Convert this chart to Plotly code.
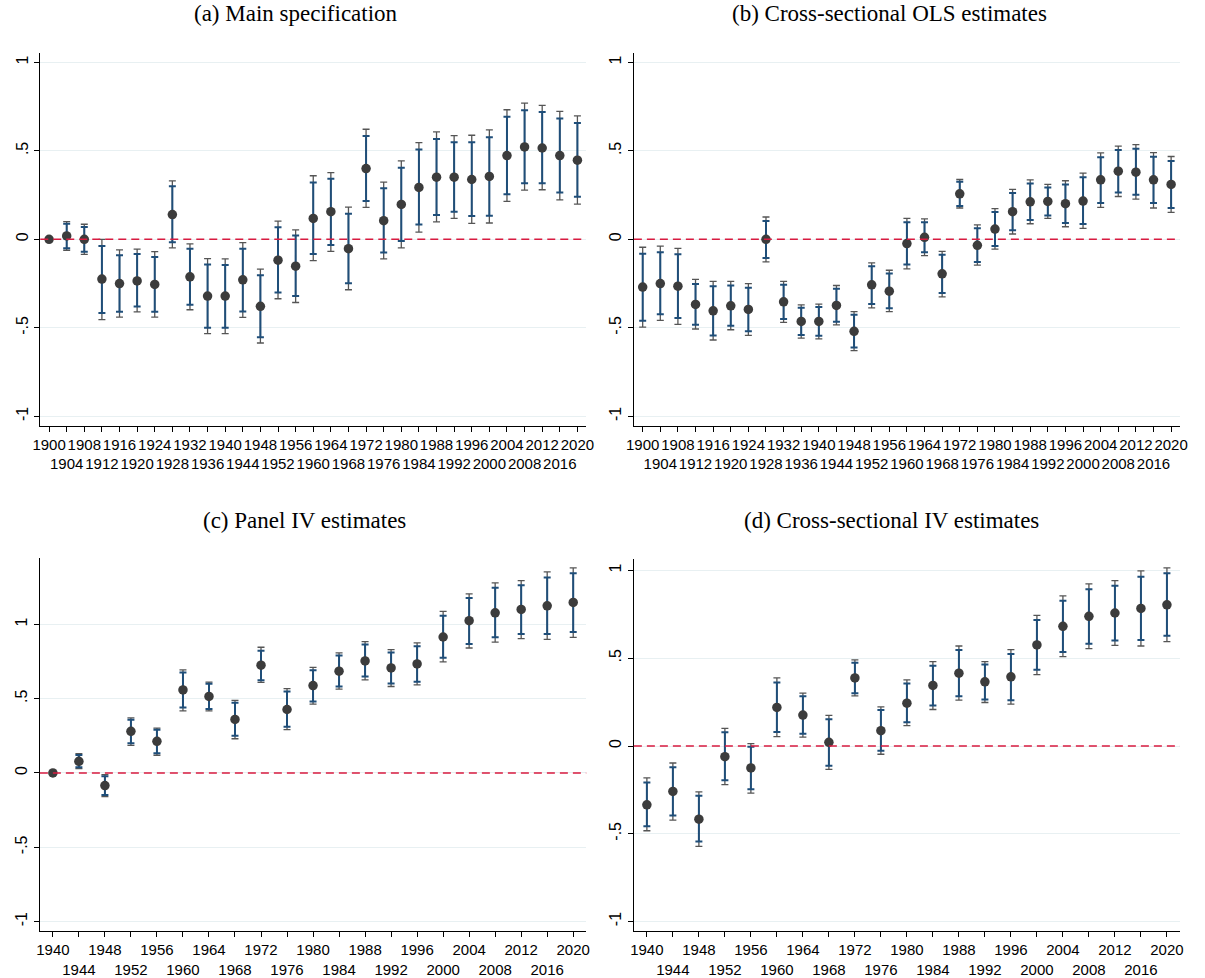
import plotly.graph_objects as go

# ---------------- data ----------------
# (a) Main specification
years_a = [1900, 1904, 1908, 1912, 1916, 1920, 1924, 1928, 1932, 1936, 1940, 1944, 1948, 1952, 1956,
           1960, 1964, 1968, 1972, 1976, 1980, 1984, 1988, 1992, 1996, 2000, 2004, 2008, 2012, 2016, 2020]
est_a = [0.0, 0.019, 0.0, -0.225, -0.25, -0.235, -0.255, 0.14, -0.212, -0.321, -0.321, -0.229, -0.379, -0.118, -0.152,
         0.118, 0.156, -0.053, 0.40, 0.105, 0.197, 0.293, 0.351, 0.351, 0.338, 0.355, 0.473, 0.522, 0.516, 0.473, 0.447]
hi95_a = [0.0, 0.10, 0.085, 0.0, -0.06, -0.055, -0.07, 0.33, -0.026, -0.109, -0.111, -0.019, -0.169, 0.103, 0.053,
          0.359, 0.377, 0.182, 0.622, 0.323, 0.443, 0.546, 0.607, 0.586, 0.588, 0.618, 0.732, 0.77, 0.757, 0.723, 0.697]
hi90_a = [0.0, 0.088, 0.07, -0.038, -0.09, -0.083, -0.10, 0.30, -0.054, -0.143, -0.145, -0.054, -0.203, 0.068, 0.021,
          0.321, 0.342, 0.145, 0.584, 0.289, 0.404, 0.507, 0.567, 0.548, 0.548, 0.577, 0.693, 0.729, 0.719, 0.682, 0.657]
lo90_a = [0.0, -0.05, -0.07, -0.417, -0.41, -0.38, -0.41, -0.017, -0.37, -0.50, -0.50, -0.408, -0.554, -0.30, -0.321,
          -0.083, -0.032, -0.248, 0.216, -0.075, -0.009, 0.083, 0.137, 0.156, 0.131, 0.133, 0.255, 0.317, 0.317, 0.265, 0.24]
lo95_a = [0.0, -0.062, -0.085, -0.454, -0.44, -0.41, -0.44, -0.049, -0.398, -0.533, -0.533, -0.441, -0.586, -0.336, -0.357,
          -0.120, -0.068, -0.285, 0.18, -0.111, -0.049, 0.041, 0.098, 0.118, 0.09, 0.092, 0.214, 0.278, 0.28, 0.223, 0.199]

# (b) Cross-sectional OLS estimates
years_b = years_a
est_b = [-0.27, -0.25, -0.265, -0.368, -0.404, -0.376, -0.396, 0.0, -0.353, -0.464, -0.464, -0.374, -0.52, -0.257, -0.293,
         -0.024, 0.011, -0.195, 0.257, -0.034, 0.058, 0.156, 0.212, 0.214, 0.201, 0.216, 0.336, 0.385, 0.379, 0.336, 0.31]
hi95_b = [-0.045, -0.039, -0.051, -0.227, -0.238, -0.238, -0.25, 0.126, -0.238, -0.37, -0.366, -0.261, -0.409, -0.133, -0.175,
          0.118, 0.115, -0.068, 0.338, 0.081, 0.173, 0.282, 0.336, 0.31, 0.331, 0.374, 0.488, 0.526, 0.535, 0.49, 0.468]
hi90_b = [-0.081, -0.073, -0.085, -0.252, -0.265, -0.261, -0.274, 0.103, -0.257, -0.387, -0.383, -0.28, -0.426, -0.152, -0.193,
          0.096, 0.096, -0.088, 0.325, 0.062, 0.154, 0.261, 0.315, 0.293, 0.31, 0.35, 0.464, 0.505, 0.511, 0.466, 0.443]
lo90_b = [-0.46, -0.424, -0.445, -0.483, -0.543, -0.488, -0.52, -0.105, -0.451, -0.541, -0.545, -0.466, -0.612, -0.366, -0.39,
          -0.143, -0.073, -0.304, 0.188, -0.128, -0.038, 0.051, 0.109, 0.135, 0.092, 0.086, 0.205, 0.265, 0.252, 0.205, 0.177]
lo95_b = [-0.496, -0.458, -0.481, -0.507, -0.569, -0.511, -0.543, -0.128, -0.469, -0.558, -0.563, -0.484, -0.629, -0.387, -0.409,
          -0.167, -0.092, -0.325, 0.177, -0.146, -0.056, 0.03, 0.088, 0.118, 0.071, 0.062, 0.18, 0.242, 0.227, 0.177, 0.152]

# (c) Panel IV estimates
years_c = [1940, 1944, 1948, 1952, 1956, 1960, 1964, 1968, 1972, 1976, 1980,
           1984, 1988, 1992, 1996, 2000, 2004, 2008, 2012, 2016, 2020]
est_c = [0.0, 0.078, -0.085, 0.28, 0.213, 0.559, 0.515, 0.36, 0.725, 0.427, 0.588,
         0.685, 0.754, 0.707, 0.734, 0.915, 1.025, 1.078, 1.101, 1.125, 1.148]
hi95_c = [0.0, 0.13, -0.011, 0.371, 0.302, 0.694, 0.611, 0.488, 0.846, 0.568, 0.711,
          0.808, 0.884, 0.83, 0.875, 1.087, 1.206, 1.28, 1.295, 1.353, 1.38]
hi90_c = [0.0, 0.121, -0.022, 0.358, 0.291, 0.676, 0.60, 0.472, 0.823, 0.548, 0.691,
          0.79, 0.864, 0.81, 0.852, 1.058, 1.177, 1.246, 1.264, 1.315, 1.345]
lo90_c = [0.0, 0.038, -0.148, 0.199, 0.132, 0.441, 0.43, 0.251, 0.624, 0.311, 0.481,
          0.582, 0.649, 0.602, 0.613, 0.776, 0.868, 0.913, 0.935, 0.935, 0.949]
lo95_c = [0.0, 0.029, -0.159, 0.186, 0.119, 0.418, 0.418, 0.23, 0.609, 0.291, 0.463,
          0.564, 0.626, 0.582, 0.593, 0.747, 0.841, 0.881, 0.904, 0.899, 0.913]

# (d) Cross-sectional IV estimates
years_d = years_c
est_d = [-0.335, -0.259, -0.417, -0.061, -0.125, 0.22, 0.176, 0.021, 0.388, 0.087, 0.244,
         0.345, 0.415, 0.366, 0.394, 0.576, 0.682, 0.739, 0.758, 0.784, 0.805]
hi95_d = [-0.182, -0.097, -0.261, 0.10, 0.013, 0.388, 0.301, 0.174, 0.491, 0.223, 0.377,
          0.481, 0.57, 0.481, 0.549, 0.744, 0.856, 0.924, 0.943, 0.998, 1.015]
hi90_d = [-0.208, -0.121, -0.284, 0.078, -0.004, 0.362, 0.284, 0.152, 0.475, 0.205, 0.356,
          0.458, 0.547, 0.464, 0.525, 0.718, 0.828, 0.894, 0.913, 0.964, 0.985]
lo90_d = [-0.458, -0.396, -0.545, -0.195, -0.246, 0.08, 0.07, -0.112, 0.301, -0.027, 0.136,
          0.231, 0.284, 0.265, 0.261, 0.434, 0.536, 0.583, 0.602, 0.604, 0.629]
lo95_d = [-0.483, -0.422, -0.572, -0.22, -0.269, 0.053, 0.051, -0.133, 0.286, -0.047, 0.116,
          0.208, 0.261, 0.248, 0.239, 0.407, 0.509, 0.555, 0.574, 0.57, 0.595]

titles = ["(a) Main specification", "(b) Cross-sectional OLS estimates",
          "(c) Panel IV estimates", "(d) Cross-sectional IV estimates"]
ytick_vals = [-1, -0.5, 0, 0.5, 1]
ytick_text = ["-1", "-.5", "0", ".5", "1"]

# ---------------- styling ----------------
W, H = 1205, 978
POINT = "#3c3c3c"
CI95 = "#555555"
CI90 = "#1f4e79"
GRID = "#e8f0f2"
REF = "#d81b40"
SANS = "Liberation Sans, Arial, sans-serif"
TITLEFONT = dict(family="Liberation Serif, Times New Roman, serif", size=23, color="black")

# pixel boxes of each plot area: (left, right, top, bottom), plus axis ranges
panels = [
    dict(data=(years_a, est_a, hi95_a, hi90_a, lo90_a, lo95_a), box=(32.7, 586, 53.3, 427.3),
         xr=[1898, 2022], yr=[-1.055, 1.052], title_x=292, title_y=14, xfont=15),
    dict(data=(years_b, est_b, hi95_b, hi90_b, lo90_b, lo95_b), box=(634.3, 1187.7, 53.3, 427.3),
         xr=[1898, 2022], yr=[-1.055, 1.052], title_x=893, title_y=14, xfont=15),
    dict(data=(years_c, est_c, hi95_c, hi90_c, lo90_c, lo95_c), box=(32.3, 586, 560, 934.3),
         xr=[1938, 2022], yr=[-1.067, 1.445], title_x=300, title_y=522, xfont=15),
    dict(data=(years_d, est_d, hi95_d, hi90_d, lo90_d, lo95_d), box=(634.3, 1187.7, 560.7, 934.3),
         xr=[1938, 2022], yr=[-1.057, 1.066], title_x=895, title_y=522, xfont=15),
]

fig = go.Figure()
layout = dict(width=W, height=H, margin=dict(l=0, r=0, t=0, b=0),
              paper_bgcolor="white", plot_bgcolor="white", showlegend=False,
              annotations=[], shapes=[])

for i, p in enumerate(panels, start=1):
    yrs, est, hi95, hi90, lo90, lo95 = p["data"]
    xa = "x" if i == 1 else f"x{i}"
    ya = "y" if i == 1 else f"y{i}"
    # 95% interval (gray), 90% interval (navy), point estimates on top
    fig.add_trace(go.Scatter(
        x=yrs, y=est, xaxis=xa, yaxis=ya, mode="markers",
        marker=dict(size=1, opacity=0),
        error_y=dict(type="data", symmetric=False,
                     array=[h - e for h, e in zip(hi95, est)],
                     arrayminus=[e - l for e, l in zip(est, lo95)],
                     color=CI95, thickness=1.3, width=3.5),
        hoverinfo="skip"))
    fig.add_trace(go.Scatter(
        x=yrs, y=est, xaxis=xa, yaxis=ya, mode="markers",
        marker=dict(size=1, opacity=0),
        error_y=dict(type="data", symmetric=False,
                     array=[h - e for h, e in zip(hi90, est)],
                     arrayminus=[e - l for e, l in zip(est, lo90)],
                     color=CI90, thickness=2, width=3.5),
        hoverinfo="skip"))
    fig.add_trace(go.Scatter(
        x=yrs, y=est, xaxis=xa, yaxis=ya, mode="markers",
        marker=dict(size=9.5, color=POINT)))

    left, right, top, bottom = p["box"]
    xkey = "xaxis" if i == 1 else f"xaxis{i}"
    ykey = "yaxis" if i == 1 else f"yaxis{i}"
    tick_text = [str(y) if k % 2 == 0 else "<br>" + str(y) for k, y in enumerate(yrs)]
    layout[xkey] = dict(domain=[left / W, right / W], range=p["xr"], anchor=ya,
                        tickmode="array", tickvals=yrs, ticktext=tick_text,
                        ticks="outside", ticklen=5, tickcolor="black", tickwidth=1,
                        showline=True, linecolor="black", linewidth=1,
                        showgrid=False, zeroline=False, tickangle=0,
                        tickfont=dict(family=SANS, size=p["xfont"], color="black"))
    layout[ykey] = dict(domain=[1 - bottom / H, 1 - top / H], range=p["yr"], anchor=xa,
                        tickmode="array", tickvals=ytick_vals, ticktext=ytick_text,
                        ticks="outside", ticklen=5, tickcolor="black", tickwidth=1,
                        showline=True, linecolor="black", linewidth=1,
                        showgrid=True, gridcolor=GRID, gridwidth=1,
                        zeroline=False, tickangle=-90,
                        tickfont=dict(family=SANS, size=16, color="black"))
    # reference line at zero
    layout["shapes"].append(dict(type="line", xref=f"{xa} domain", yref=ya,
                                 x0=0, x1=1, y0=0, y1=0,
                                 line=dict(color=REF, width=1.6, dash="8px,5px")))
    layout["annotations"].append(dict(text=titles[i - 1], xref="paper", yref="paper",
                                      x=p["title_x"] / W, y=1 - p["title_y"] / H,
                                      xanchor="center", yanchor="middle",
                                      showarrow=False, font=TITLEFONT))

fig.update_layout(**layout)
fig.write_html("out.html")
